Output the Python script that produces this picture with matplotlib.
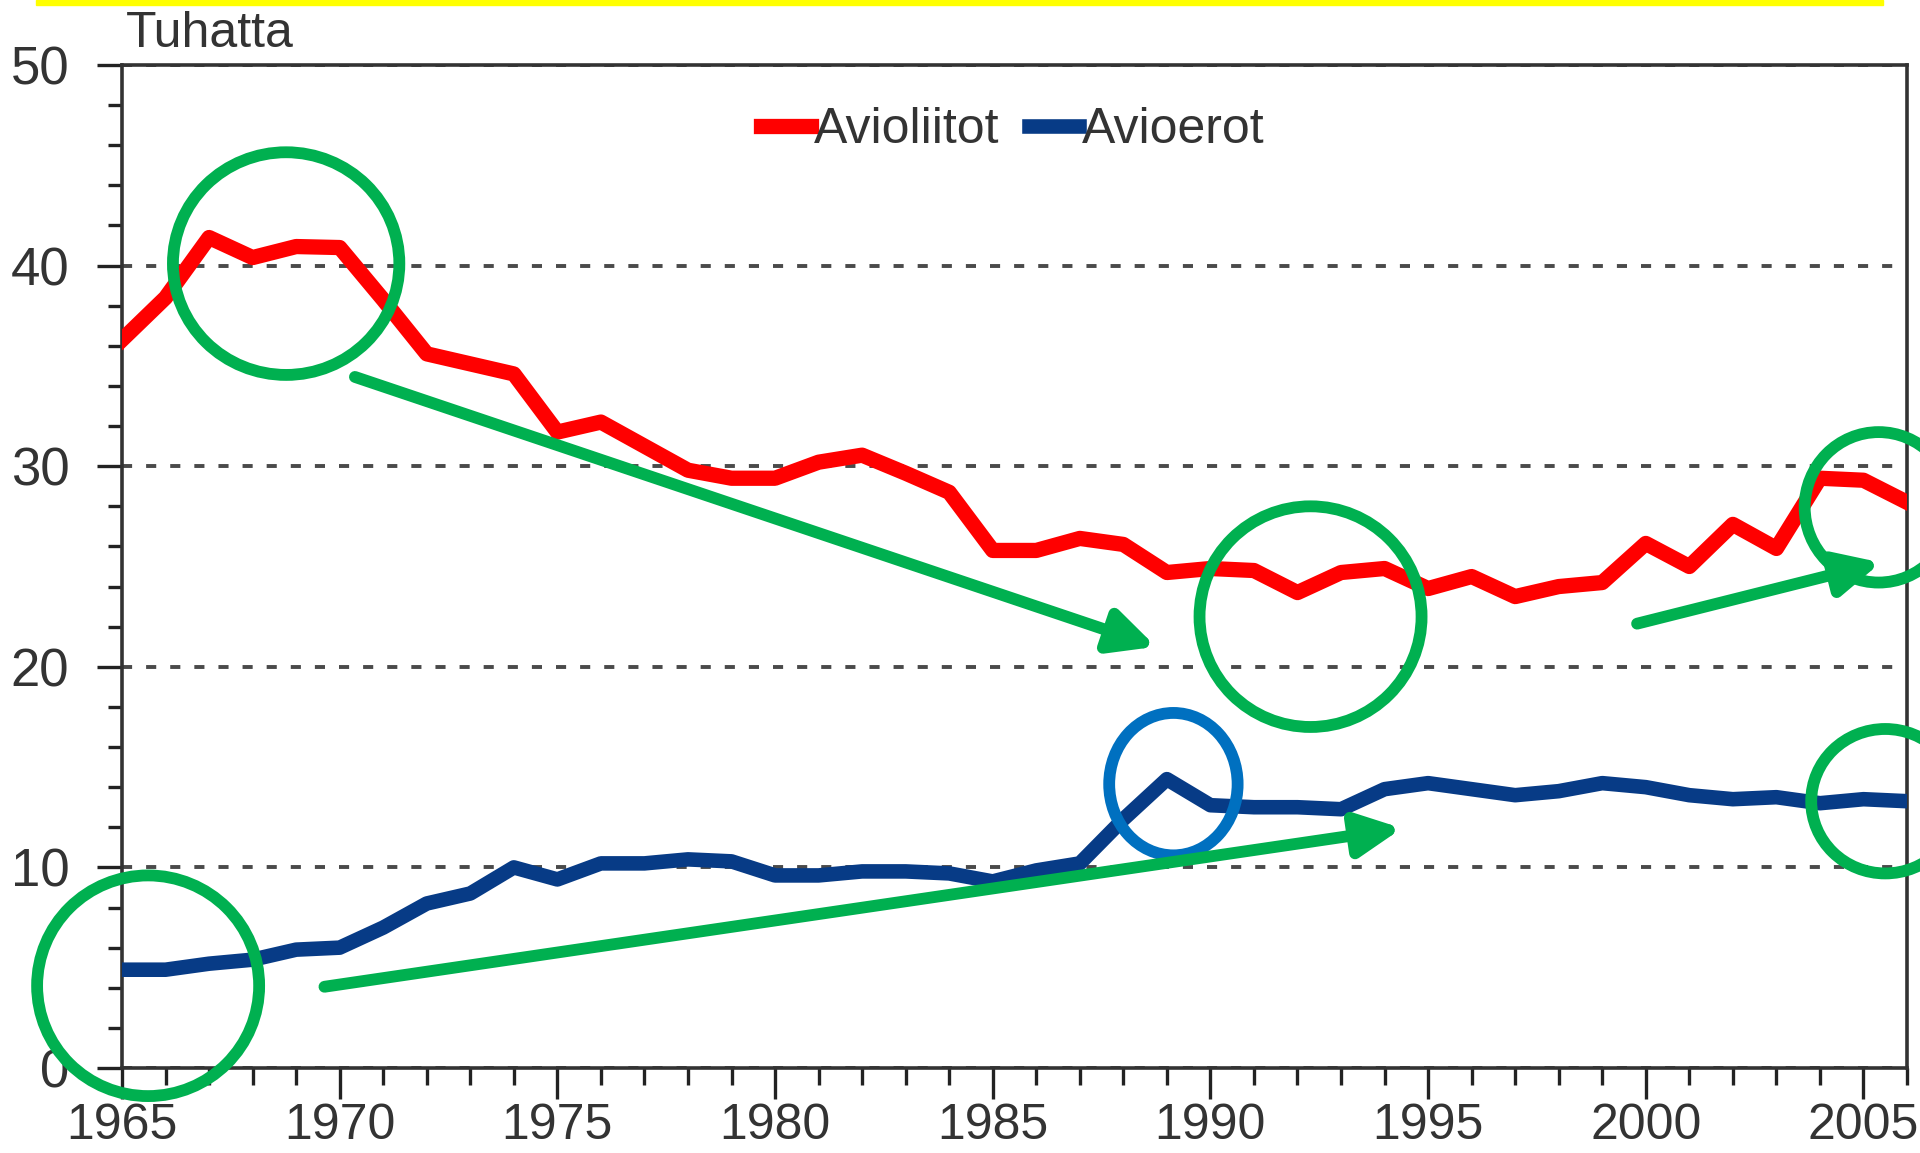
import matplotlib
matplotlib.use("Agg")
import matplotlib.pyplot as plt
import matplotlib.ticker as mt
from matplotlib.patches import Ellipse, Rectangle

plt.rcParams['font.family'] = ['Liberation Sans', 'DejaVu Sans']

# Marriages and divorces in Finland, thousands
years = list(range(1965, 2007))
avioliitot = [36.3, 38.4, 41.4, 40.4, 40.95, 40.9, 38.3, 35.6, 35.1, 34.6,
              31.7, 32.2, 31.0, 29.8, 29.4, 29.4, 30.2, 30.55, 29.65, 28.7,
              25.8, 25.8, 26.4, 26.1, 24.7, 24.9, 24.8, 23.7, 24.7, 24.9,
              23.9, 24.5, 23.5, 24.0, 24.2, 26.15, 25.0, 27.1, 25.9, 29.4,
              29.3, 28.2]
avioerot = [4.9, 4.9, 5.2, 5.4, 5.9, 6.0, 7.0, 8.2, 8.7, 10.0,
            9.4, 10.2, 10.2, 10.4, 10.3, 9.6, 9.6, 9.8, 9.8, 9.7,
            9.3, 9.85, 10.2, 12.4, 14.4, 13.1, 13.0, 13.0, 12.9, 13.9,
            14.2, 13.9, 13.6, 13.8, 14.2, 14.0, 13.6, 13.4, 13.5, 13.2,
            13.4, 13.3]

# hand drawn highlights on top of the chart (data coordinates)
green_circles = [(1968.77, 40.1, 5.2, 11.1), (1992.3, 22.5, 5.1, 11.0),
                 (2005.35, 27.95, 3.4, 7.5), (2005.5, 13.3, 3.4, 7.2),
                 (1965.6, 4.1, 5.1, 11.0)]
blue_circles = [(1989.15, 14.15, 2.95, 7.1)]
green_arrows = [((1970.35, 34.45), (1988.75, 21.0)),
                ((1969.65, 4.05), (1994.4, 11.95)),
                ((1999.8, 22.15), (2005.4, 25.2))]

red = "#ff0000"
navy = "#073b86"
green = "#00b050"
blue = "#0070c0"
txt = "#333333"

fig = plt.figure(figsize=(19.2, 11.53), dpi=100)
ax = fig.add_axes([122 / 1920, 1 - 1068 / 1153, 1785 / 1920, 1003 / 1153])

ax.plot(years, avioliitot, color=red, lw=11, label="Avioliitot", solid_joinstyle="round", zorder=3)
ax.plot(years, avioerot, color=navy, lw=10.5, label="Avioerot", solid_joinstyle="round", zorder=3)

ax.set_xlim(1965, 2006)
ax.set_ylim(0, 50)
ax.xaxis.set_major_locator(mt.MultipleLocator(5))
ax.xaxis.set_minor_locator(mt.MultipleLocator(1))
ax.yaxis.set_major_locator(mt.MultipleLocator(10))
ax.yaxis.set_minor_locator(mt.MultipleLocator(2))
ax.tick_params(axis="x", which="major", length=22, width=2.4, pad=3, labelsize=36, colors="#222222", labelcolor=txt)
ax.tick_params(axis="x", which="minor", length=12, width=2.4, colors="#222222")
ax.tick_params(axis="y", which="major", length=18, width=2.4, pad=20, labelsize=38, colors="#222222", labelcolor=txt)
ax.tick_params(axis="y", which="minor", length=10, width=2.4, colors="#222222")
for s in ax.spines.values():
    s.set_linewidth(2.6)
    s.set_color("#333333")

ax.grid(axis="y", which="major", color="#4a4a4a", lw=2.8, linestyle=(0, (2.6, 3.6)))
ax.set_axisbelow(True)

leg = ax.legend(loc="center", bbox_to_anchor=(0.499, 0.935), ncol=2, frameon=False,
                fontsize=36, handlelength=1.0, handletextpad=0.05, columnspacing=0.6,
                labelcolor=txt)

fig.text(126 / 1920, 1 - 47 / 1153, "Tuhatta", fontsize=36, color=txt, ha="left", va="baseline")

for x, y, w, h in green_circles:
    ax.add_patch(Ellipse((x, y), w, h, fill=False, ec=green, lw=8.5, clip_on=False, zorder=5))
for x, y, w, h in blue_circles:
    ax.add_patch(Ellipse((x, y), w, h, fill=False, ec=blue, lw=8.5, clip_on=False, zorder=5))
for start, end in green_arrows:
    ax.annotate("", xy=end, xytext=start, annotation_clip=False,
                arrowprops=dict(arrowstyle="-|>,head_length=0.55,head_width=0.27", color=green,
                                lw=8.5, mutation_scale=48, shrinkA=0, shrinkB=0), zorder=5)

# yellow strip along the top edge
fig.patches.append(Rectangle((36 / 1920, 1 - 5 / 1153), 1847 / 1920, 5 / 1153,
                             transform=fig.transFigure, color="#ffff00", zorder=0))

fig.savefig("out.png", dpi=100)
